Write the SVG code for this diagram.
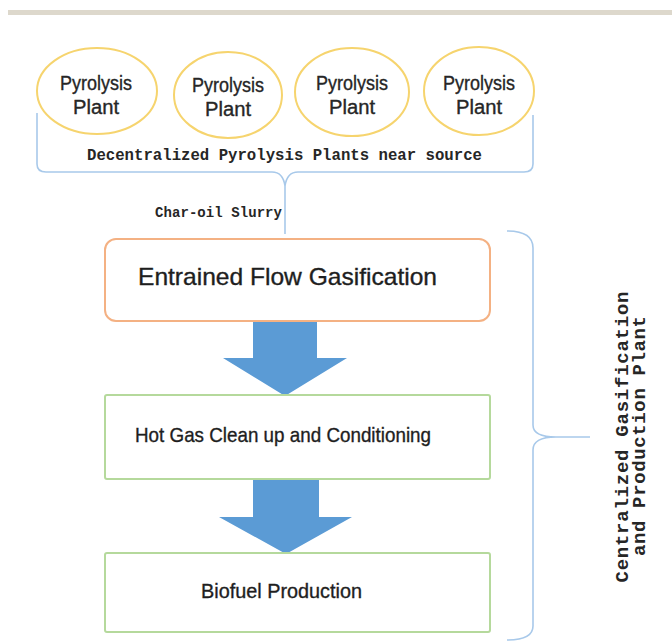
<svg xmlns="http://www.w3.org/2000/svg" width="672" height="641" viewBox="0 0 672 641">
<defs>
<style>
.ell{fill:#fff;stroke:#f6d46e;stroke-width:2}
.pt{font-family:"Liberation Sans",Arial,sans-serif;font-size:20px;fill:#262626;stroke:#262626;stroke-width:0.35;text-anchor:middle}
.mono{font-family:"Liberation Mono","Courier New",monospace;font-weight:bold;fill:#262626}
.box{fill:#fff;stroke-width:2}
.bt{font-family:"Liberation Sans",Arial,sans-serif;fill:#1e1e1e;stroke:#1e1e1e;stroke-width:0.35}
.brace{fill:none;stroke:#a8c9ea;stroke-width:1.6}
.arrow{fill:#5b9bd5}
</style>
</defs>
<rect x="0" y="0" width="672" height="641" fill="#fff"/>
<rect x="8" y="10" width="664" height="5" fill="#ddd8cc"/>

<g id="plant1">
<ellipse class="ell" cx="97" cy="91" rx="60" ry="43"/>
<text class="pt" x="96" y="90" textLength="72" lengthAdjust="spacingAndGlyphs">Pyrolysis</text>
<text class="pt" x="96" y="114" textLength="46" lengthAdjust="spacingAndGlyphs">Plant</text>
</g>
<g id="plant2">
<ellipse class="ell" cx="228" cy="95" rx="54" ry="43"/>
<text class="pt" x="228" y="92" textLength="72" lengthAdjust="spacingAndGlyphs">Pyrolysis</text>
<text class="pt" x="228" y="116" textLength="46" lengthAdjust="spacingAndGlyphs">Plant</text>
</g>
<g id="plant3">
<ellipse class="ell" cx="352" cy="92" rx="57" ry="44"/>
<text class="pt" x="352" y="90" textLength="72" lengthAdjust="spacingAndGlyphs">Pyrolysis</text>
<text class="pt" x="352" y="114" textLength="46" lengthAdjust="spacingAndGlyphs">Plant</text>
</g>
<g id="plant4">
<ellipse class="ell" cx="479" cy="91" rx="55" ry="44"/>
<text class="pt" x="479" y="90" textLength="72" lengthAdjust="spacingAndGlyphs">Pyrolysis</text>
<text class="pt" x="479" y="114" textLength="46" lengthAdjust="spacingAndGlyphs">Plant</text>
</g>

<g id="decentral-label">
<text class="mono" x="87" y="160" font-size="15.7" textLength="395">Decentralized Pyrolysis Plants near source</text>
</g>
<g id="slurry-label">
<text class="mono" x="155" y="217" font-size="14" textLength="127">Char-oil Slurry</text>
</g>

<g id="connectors">
<path class="brace" d="M37,113 V164 Q37,172 46,172 H272 Q283,172 285,186 Q287,172 298,172 H524 Q533,172 533,164 V115"/>
<path class="brace" d="M285,186 V234"/>
<path class="brace" d="M507,231 Q533,231 533,248 V425 Q533,437 556,437 L590,437 M556,437 Q533,437 533,450 V626 Q533,640 507,640"/>
<path class="arrow" d="M253,321 H317 V358 H347 L285,396 L223,358 H253 Z"/>
<path class="arrow" d="M253,479 H319 V517 H352 L286,554 L219,517 H253 Z"/>
</g>

<g id="gasification">
<rect class="box" x="105" y="239" width="385" height="82" rx="11" stroke="#f4b183"/>
<text class="bt" x="138" y="285" font-size="24" textLength="299" lengthAdjust="spacingAndGlyphs">Entrained Flow Gasification</text>
</g>
<g id="cleanup">
<rect class="box" x="105" y="395" width="385" height="84" rx="2" stroke="#b5d99c"/>
<text class="bt" x="135" y="442" font-size="21" textLength="296" lengthAdjust="spacingAndGlyphs">Hot Gas Clean up and Conditioning</text>
</g>
<g id="biofuel">
<rect class="box" x="105" y="553" width="385" height="79" rx="2" stroke="#b5d99c"/>
<text class="bt" x="201" y="598" font-size="21" textLength="161" lengthAdjust="spacingAndGlyphs">Biofuel Production</text>
</g>

<g id="central-label">
<text class="mono" font-size="19" text-anchor="middle" transform="translate(628,437) rotate(-90)" textLength="291">Centralized Gasification</text>
<text class="mono" font-size="19" text-anchor="middle" transform="translate(645,436) rotate(-90)" textLength="240">and Production Plant</text>
</g>
</svg>
